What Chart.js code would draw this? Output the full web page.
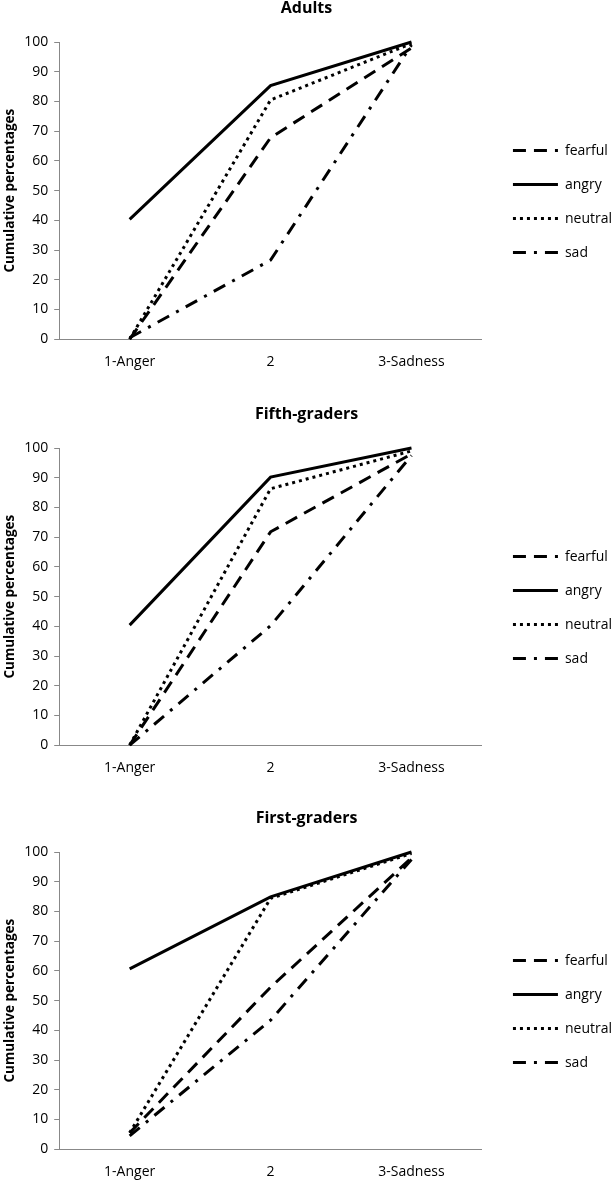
<!DOCTYPE html>
<html lang="en">
<head>
  <meta charset="UTF-8">
  <title>Cumulative percentages by group</title>
  <script src="https://cdn.jsdelivr.net/npm/chart.js"></script>
  <style>
    body {
      margin: 0; padding: 0;
      background: #fff;
      width: 611px; height: 1180px;
      overflow: hidden;
      position: relative;
    }
    .panel {
      position: absolute;
      left: 0;
      width: 611px;
      height: 386px;
    }
  </style>
</head>
<body>
  <div class="panel" style="top:0px"><canvas id="adults"></canvas></div>
  <div class="panel" style="top:406px"><canvas id="fifth"></canvas></div>
  <div class="panel" style="top:810px"><canvas id="first"></canvas></div>

  <script>
    // data
    const categories = ['1-Anger', '2', '3-Sadness'];
    const seriesNames = ['fearful', 'angry', 'neutral', 'sad'];
    const yMin = 0, yMax = 100, yStep = 10;
    const yTitle = 'Cumulative percentages';

    const adultsTitle = 'Adults';
    const adultsFearful = [0, 67.8, 98];
    const adultsAngry   = [40.3, 85.3, 100];
    const adultsNeutral = [0, 80.5, 99.5];
    const adultsSad     = [0.5, 26.6, 99];

    const fifthTitle = 'Fifth-graders';
    const fifthFearful = [0, 71.8, 98];
    const fifthAngry   = [40.4, 90.2, 100];
    const fifthNeutral = [0, 86.3, 99];
    const fifthSad     = [0, 40.2, 97.5];

    const firstTitle = 'First-graders';
    const firstFearful = [5.5, 54.5, 98];
    const firstAngry   = [60.7, 84.9, 100];
    const firstNeutral = [5.5, 84.4, 99.5];
    const firstSad     = [4.5, 43.4, 97.5];

    // line looks, same order as seriesNames
    const dashes = [[13, 8], [], [3, 4], [13, 8, 3, 8]];

    Chart.defaults.font.family = "'Open Sans', sans-serif";
    Chart.defaults.color = '#000';

    // push the legend a bit right/down like the original layout
    const legendNudge = {
      id: 'legendNudge',
      afterLayout(chart, args, opts) {
        const lg = chart.legend;
        if (!lg) return;
        lg.left += opts.dx; lg.right += opts.dx;
        lg.top += opts.dy; lg.bottom += opts.dy;
      }
    };

    // legend swatches: use the dataset's line dash, not the point style
    function lineLabels(chart) {
      const items = Chart.defaults.plugins.legend.labels.generateLabels(chart);
      items.forEach(it => {
        const ds = chart.data.datasets[it.datasetIndex];
        it.lineDash = ds.borderDash;
        it.lineWidth = ds.borderWidth;
        it.strokeStyle = ds.borderColor;
        it.lineCap = 'butt';
      });
      return items;
    }

    function makeChart(id, title, series) {
      const ctx = document.getElementById(id).getContext('2d');
      return new Chart(ctx, {
        type: 'line',
        data: {
          labels: categories,
          datasets: series.map((vals, i) => ({
            label: seriesNames[i],
            data: vals,
            borderColor: '#000',
            backgroundColor: '#000',
            borderWidth: 3,
            borderDash: dashes[i],
            pointRadius: 0,
            tension: 0,
            fill: false,
            clip: false
          }))
        },
        options: {
          responsive: true,
          maintainAspectRatio: false,
          animation: false,
          layout: { padding: { left: 2, right: 0, top: 0, bottom: 2 } },
          scales: {
            x: {
              offset: true,
              grid: { display: false, drawTicks: false },
              border: { color: '#888', width: 1 },
              ticks: { font: { size: 14 }, padding: 14, color: '#000' }
            },
            y: {
              min: yMin, max: yMax,
              ticks: { stepSize: yStep, font: { size: 14 }, padding: 6, color: '#000' },
              grid: { drawOnChartArea: false, drawTicks: true, tickLength: 5, color: '#888' },
              border: { color: '#888', width: 1 },
              title: {
                display: true, text: yTitle, color: '#000',
                font: { size: 13.5, weight: 'bold' },
                padding: { top: 0, bottom: 0 }
              }
            }
          },
          plugins: {
            title: {
              display: true, text: title, color: '#000',
              font: { size: 16, weight: 'bold', lineHeight: 1 },
              padding: { top: 0, bottom: 26 }
            },
            legend: {
              position: 'right',
              fullSize: false,
              labels: {
                usePointStyle: true,
                pointStyle: 'line',
                pointStyleWidth: 45,
                padding: 20,
                color: '#000',
                font: { size: 14 },
                generateLabels: lineLabels
              }
            },
            tooltip: { enabled: false },
            legendNudge: { dx: 11, dy: 11 }
          }
        },
        plugins: [legendNudge]
      });
    }

    makeChart('adults', adultsTitle, [adultsFearful, adultsAngry, adultsNeutral, adultsSad]);
    makeChart('fifth', fifthTitle, [fifthFearful, fifthAngry, fifthNeutral, fifthSad]);
    makeChart('first', firstTitle, [firstFearful, firstAngry, firstNeutral, firstSad]);
  </script>
</body>
</html>
